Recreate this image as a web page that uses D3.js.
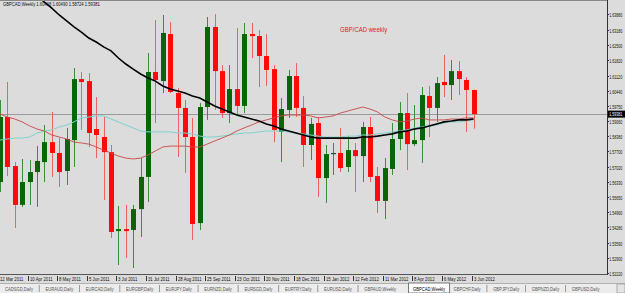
<!DOCTYPE html>
<html><head><meta charset="utf-8">
<script src="https://cdn.jsdelivr.net/npm/d3@7"></script>
<style>html,body{margin:0;padding:0;background:#dcdcdc;overflow:hidden}</style>
</head><body><svg id="c" width="625" height="293"></svg>
<script>
// ---------------- data ----------------
const symbolName = "GBPCAD,Weekly";
const chartTitle = "GBP/CAD weekly";
const timeLabels = ["12 Mar 2011","10 Apr 2011","8 May 2011","5 Jun 2011","3 Jul 2011","31 Jul 2011","28 Aug 2011","25 Sep 2011","23 Oct 2011","20 Nov 2011","18 Dec 2011","15 Jan 2012","12 Feb 2012","11 Mar 2012","8 Apr 2012","6 May 2012","3 Jun 2012"];
const opens  = [1.5632,1.5925,1.5704,1.5529,1.5632,1.5677,1.5722,1.5812,1.5763,1.5682,1.5821,1.6096,1.6087,1.5871,1.5835,1.5767,1.5411,1.5420,1.5416,1.5510,1.5655,1.6128,1.6087,1.6299,1.6033,1.5966,1.5835,1.5447,1.5970,1.6331,1.6132,1.5943,1.6051,1.5975,1.6299,1.6290,1.6200,1.6141,1.5858,1.5957,1.6110,1.5966,1.5799,1.5898,1.5650,1.5758,1.5763,1.5700,1.5776,1.5749,1.5880,1.5659,1.5547,1.5691,1.5826,1.5943,1.5803,1.5821,1.6020,1.5966,1.6083,1.6069,1.6132,1.6092,1.60468];
const highs  = [1.6002,1.6083,1.5722,1.5736,1.5731,1.5794,1.5889,1.5948,1.5830,1.5876,1.6146,1.6128,1.6123,1.6015,1.5925,1.5799,1.5524,1.5529,1.5529,1.5740,1.6214,1.6362,1.6385,1.6353,1.6056,1.6002,1.5921,1.5988,1.6376,1.6389,1.6159,1.6159,1.6326,1.6349,1.6349,1.6317,1.6299,1.6159,1.6011,1.6137,1.6168,1.6020,1.5921,1.5925,1.5799,1.5808,1.5876,1.5839,1.5808,1.5903,1.5925,1.5700,1.5740,1.5898,1.5993,1.6033,1.5979,1.6060,1.6065,1.6105,1.6205,1.6182,1.6177,1.6105,1.60490];
const lows   = [1.5587,1.5659,1.5425,1.5520,1.5529,1.5520,1.5632,1.5655,1.5610,1.5619,1.5700,1.5867,1.5790,1.5740,1.5551,1.5380,1.5258,1.5290,1.5245,1.5384,1.5542,1.5898,1.6033,1.6033,1.5745,1.5673,1.5371,1.5416,1.5912,1.5957,1.5921,1.5898,1.5934,1.5943,1.6191,1.6060,1.6065,1.5812,1.5722,1.5921,1.5925,1.5700,1.5731,1.5565,1.5538,1.5664,1.5677,1.5677,1.5587,1.5632,1.5632,1.5492,1.5465,1.5664,1.5776,1.5686,1.5794,1.5718,1.5835,1.5903,1.6015,1.6002,1.6024,1.5858,1.58724];
const closes = [1.5925,1.5700,1.5529,1.5632,1.5677,1.5727,1.5812,1.5763,1.5677,1.5826,1.6096,1.6083,1.5853,1.5844,1.5767,1.5407,1.5420,1.5411,1.5510,1.5655,1.6128,1.6092,1.6304,1.6038,1.5966,1.5835,1.5443,1.5970,1.6331,1.6132,1.5943,1.6051,1.5975,1.6299,1.6290,1.6200,1.6137,1.5867,1.5961,1.6110,1.5966,1.5799,1.5894,1.5650,1.5758,1.5763,1.5695,1.5776,1.5749,1.5880,1.5655,1.5547,1.5695,1.5826,1.5943,1.5803,1.5821,1.6024,1.5966,1.6078,1.6069,1.6132,1.6096,1.6047,1.59381];
// slow moving average (black), first value belongs to bar 5
const maSlowStart = 5;
const maSlow = [1.6470,1.6443,1.6416,1.6385,1.6358,1.6331,1.6308,1.6281,1.6263,1.6241,1.6223,1.6191,1.6164,1.6141,1.6119,1.6101,1.6087,1.6065,1.6051,1.6042,1.6033,1.6020,1.6011,1.5993,1.5975,1.5961,1.5948,1.5934,1.5925,1.5916,1.5907,1.5894,1.5885,1.5871,1.5862,1.5853,1.5844,1.5835,1.5830,1.5830,1.5830,1.5830,1.5830,1.5830,1.5835,1.5835,1.5839,1.5844,1.5849,1.5858,1.5862,1.5871,1.5876,1.5885,1.5894,1.5903,1.5907,1.5912,1.5912,1.5916];
const maFast = [1.5939,1.5925,1.5916,1.5903,1.5885,1.5871,1.5862,1.5844,1.5835,1.5826,1.5812,1.5808,1.5803,1.5790,1.5776,1.5763,1.5749,1.5740,1.5736,1.5740,1.5754,1.5772,1.5790,1.5794,1.5794,1.5794,1.5790,1.5790,1.5803,1.5817,1.5830,1.5844,1.5862,1.5876,1.5889,1.5903,1.5912,1.5921,1.5930,1.5934,1.5934,1.5934,1.5930,1.5921,1.5925,1.5930,1.5943,1.5952,1.5961,1.5970,1.5961,1.5948,1.5925,1.5912,1.5903,1.5907,1.5916,1.5921,1.5912,1.5912,1.5912,1.5916,1.5916,1.5921,1.5921];
const maMid = [1.5821,1.5826,1.5830,1.5830,1.5835,1.5853,1.5862,1.5867,1.5880,1.5889,1.5903,1.5921,1.5925,1.5930,1.5930,1.5916,1.5903,1.5889,1.5876,1.5862,1.5858,1.5858,1.5858,1.5858,1.5853,1.5853,1.5849,1.5839,1.5835,1.5835,1.5839,1.5844,1.5849,1.5853,1.5853,1.5858,1.5862,1.5862,1.5862,1.5858,1.5853,1.5849,1.5844,1.5839,1.5835,1.5835,1.5835,1.5839,1.5839,1.5844,1.5844,1.5849,1.5853,1.5858,1.5862,1.5867,1.5876,1.5880,1.5885,1.5889,1.5898,1.5903,1.5903,1.5907,1.5912];
const priceTicks = [1.63880,1.63180,1.62500,1.61820,1.61120,1.60440,1.59750,1.59060,1.58380,1.57700,1.57020,1.56330,1.55650,1.54960,1.54280,1.53590,1.52900,1.52220];
const tabs = ["CADSGD,Daily","EURAUD,Daily","EURCAD,Daily","EURGBP,Daily","EURJPY,Daily","EURNZD,Daily","EURSGD,Daily","EURTRY,Daily","EURUSD,Daily","GBPAUD,Weekly","GBPCAD,Weekly","GBPCHF,Daily","GBPJPY,Daily","GBPNZD,Daily","GBPUSD,Daily"];
const activeTab = "GBPCAD,Weekly";

// ---------------- layout ----------------
const W = 625, H = 293;
const plotW = 607, plotH = 274;
const FONT = "'Liberation Sans', Arial, sans-serif";
const svg = d3.select("#c");
const bars = opens.map((o, i) => ({i, o, h: highs[i], l: lows[i], c: closes[i]}));

const x = d3.scaleLinear().domain([0, 82]).range([0, 606.8]);
const y = d3.scaleLinear().domain([1.521755, 1.645245]).range([plotH, 0]);

function squeeze(sel, f) {
  sel.each(function(){ const n = this.getComputedTextLength(); d3.select(this).attr("textLength", n*f).attr("lengthAdjust","spacingAndGlyphs"); });
}

svg.append("rect").attr("width", W).attr("height", H).attr("fill", "#dcdcdc");
svg.append("defs").append("clipPath").attr("id","pc").append("rect").attr("x",0).attr("y",0).attr("width",plotW).attr("height",plotH);
const plot = svg.append("g").attr("clip-path","url(#pc)");

// bid line
const last = closes[closes.length-1];
plot.append("line").attr("x1",0).attr("x2",plotW).attr("y1",Math.round(y(last))+0.5).attr("y2",Math.round(y(last))+0.5).attr("stroke","#9a9a9a").attr("stroke-width",1);

// candles
const up = d => d.c >= d.o;
plot.selectAll("line.wick").data(bars).join("line").attr("class","wick")
  .attr("x1", d => Math.round(x(d.i))+0.5).attr("x2", d => Math.round(x(d.i))+0.5)
  .attr("y1", d => y(d.h)).attr("y2", d => y(d.l))
  .attr("stroke", d => up(d) ? "#3c8c3c" : "#f06060").attr("stroke-width",1);
plot.selectAll("rect.body").data(bars).join("rect").attr("class","body")
  .attr("x", d => Math.round(x(d.i)) - 2).attr("width", 5)
  .attr("y", d => y(Math.max(d.o,d.c)))
  .attr("height", d => Math.max(1.2, Math.abs(y(d.o)-y(d.c))))
  .attr("fill", d => up(d) ? "#0a640a" : "#ff0a0a");

// moving averages
const line = d3.line().x(d => x(d[0])).y(d => y(d[1]));
plot.append("path").datum(maMid.map((v,i)=>[i,v])).attr("d", line).attr("fill","none").attr("stroke","#7fd2cf").attr("stroke-width",1);
plot.append("path").datum(maFast.map((v,i)=>[i,v])).attr("d", line).attr("fill","none").attr("stroke","#c84646").attr("stroke-width",0.9);
plot.append("path").datum(maSlow.map((v,i)=>[i+maSlowStart,v])).attr("d", line).attr("fill","none").attr("stroke","#000").attr("stroke-width",1.6);

// title text
svg.append("text").attr("x",340).attr("y",32).attr("font-family",FONT).attr("font-size",7).attr("fill","#e02020").text(chartTitle).call(squeeze,0.86);

// header
const hdr = symbolName + " " + [opens, highs, lows, closes].map(a => a[a.length-1].toFixed(5)).join(" ");
svg.append("text").attr("x",3).attr("y",6).attr("font-family",FONT).attr("font-size",5.2).attr("fill","#111").text(hdr).call(squeeze,0.8);

// frame
svg.append("line").attr("x1",0).attr("x2",plotW).attr("y1",0.5).attr("y2",0.5).attr("stroke","#888");
svg.append("line").attr("x1",0).attr("x2",plotW+1).attr("y1",plotH+0.5).attr("y2",plotH+0.5).attr("stroke","#555");
svg.append("line").attr("x1",plotW+0.5).attr("x2",plotW+0.5).attr("y1",0).attr("y2",plotH+1).attr("stroke","#333");

// price axis
const pa = svg.append("g");
priceTicks.forEach(p => {
  const yy = Math.round(y(p)) + 0.5;
  pa.append("line").attr("x1",plotW).attr("x2",plotW+2).attr("y1",yy).attr("y2",yy).attr("stroke","#333");
  pa.append("text").attr("x",plotW+2.2).attr("y",yy+2).attr("font-family",FONT).attr("font-size",4.5)
    .attr("fill","#111").attr("textLength",13).attr("lengthAdjust","spacingAndGlyphs").text(p.toFixed(5));
});
const by = y(last);
pa.append("rect").attr("x",plotW+1).attr("y",by-3.5).attr("width",W-plotW-1).attr("height",7).attr("fill","#000");
pa.append("text").attr("x",plotW+2.2).attr("y",by+2).attr("font-family",FONT).attr("font-size",4.5).attr("fill","#fff")
  .attr("textLength",13).attr("lengthAdjust","spacingAndGlyphs").text(last.toFixed(5));

// time axis
const ta = svg.append("g");
timeLabels.forEach((t, k) => {
  const xx = Math.round(x(k*4)) - 2 + 0.5;
  ta.append("line").attr("x1",xx).attr("x2",xx).attr("y1",plotH+2).attr("y2",plotH+7).attr("stroke","#333");
  ta.append("text").attr("x",xx+1.5).attr("y",plotH+7).attr("font-family",FONT).attr("font-size",5.3).attr("fill","#111").text(t).call(squeeze,0.8);
});

// tab bar
const tb = svg.append("g");
tb.append("rect").attr("x",0).attr("y",283).attr("width",W).attr("height",10).attr("fill","#ececec");
tb.append("line").attr("x1",0).attr("x2",W).attr("y1",283.5).attr("y2",283.5).attr("stroke","#b0b0b0");
// scale factor so that a "XXXXXX,Daily" tab label is ~28px wide
const probe = tb.append("text").attr("font-family",FONT).attr("font-size",5.3).text(tabs[0]);
const tabF = 28 / probe.node().getComputedTextLength();
probe.remove();
let cx = 5;
tabs.forEach((t, k) => {
  const isA = t === activeTab;
  const g = tb.append("g");
  const rect = isA ? g.append("rect") : null;
  const tx = g.append("text").attr("x",cx).attr("y",290.5).attr("font-family",FONT).attr("font-size",5.3).attr("fill", isA ? "#000" : "#555").text(t).call(squeeze,tabF);
  const w = +tx.attr("textLength");
  if (isA) rect.attr("x",cx-4.5).attr("y",283).attr("width",w+9).attr("height",10).attr("fill","#fff").attr("stroke","#777");
  const nxt = tabs[k+1];
  const gap = nxt === activeTab ? 17 : (isA ? 8.5 : 12.5);
  if (!isA && nxt !== activeTab && k < tabs.length-1) tb.append("line").attr("x1",cx+w+gap/2).attr("x2",cx+w+gap/2).attr("y1",285).attr("y2",292).attr("stroke","#999");
  cx += w + gap;
});
tb.append("rect").attr("x",617).attr("y",284).attr("width",8).attr("height",9).attr("fill","#e4e4e4").attr("stroke","#aaa");
</script></body></html>
